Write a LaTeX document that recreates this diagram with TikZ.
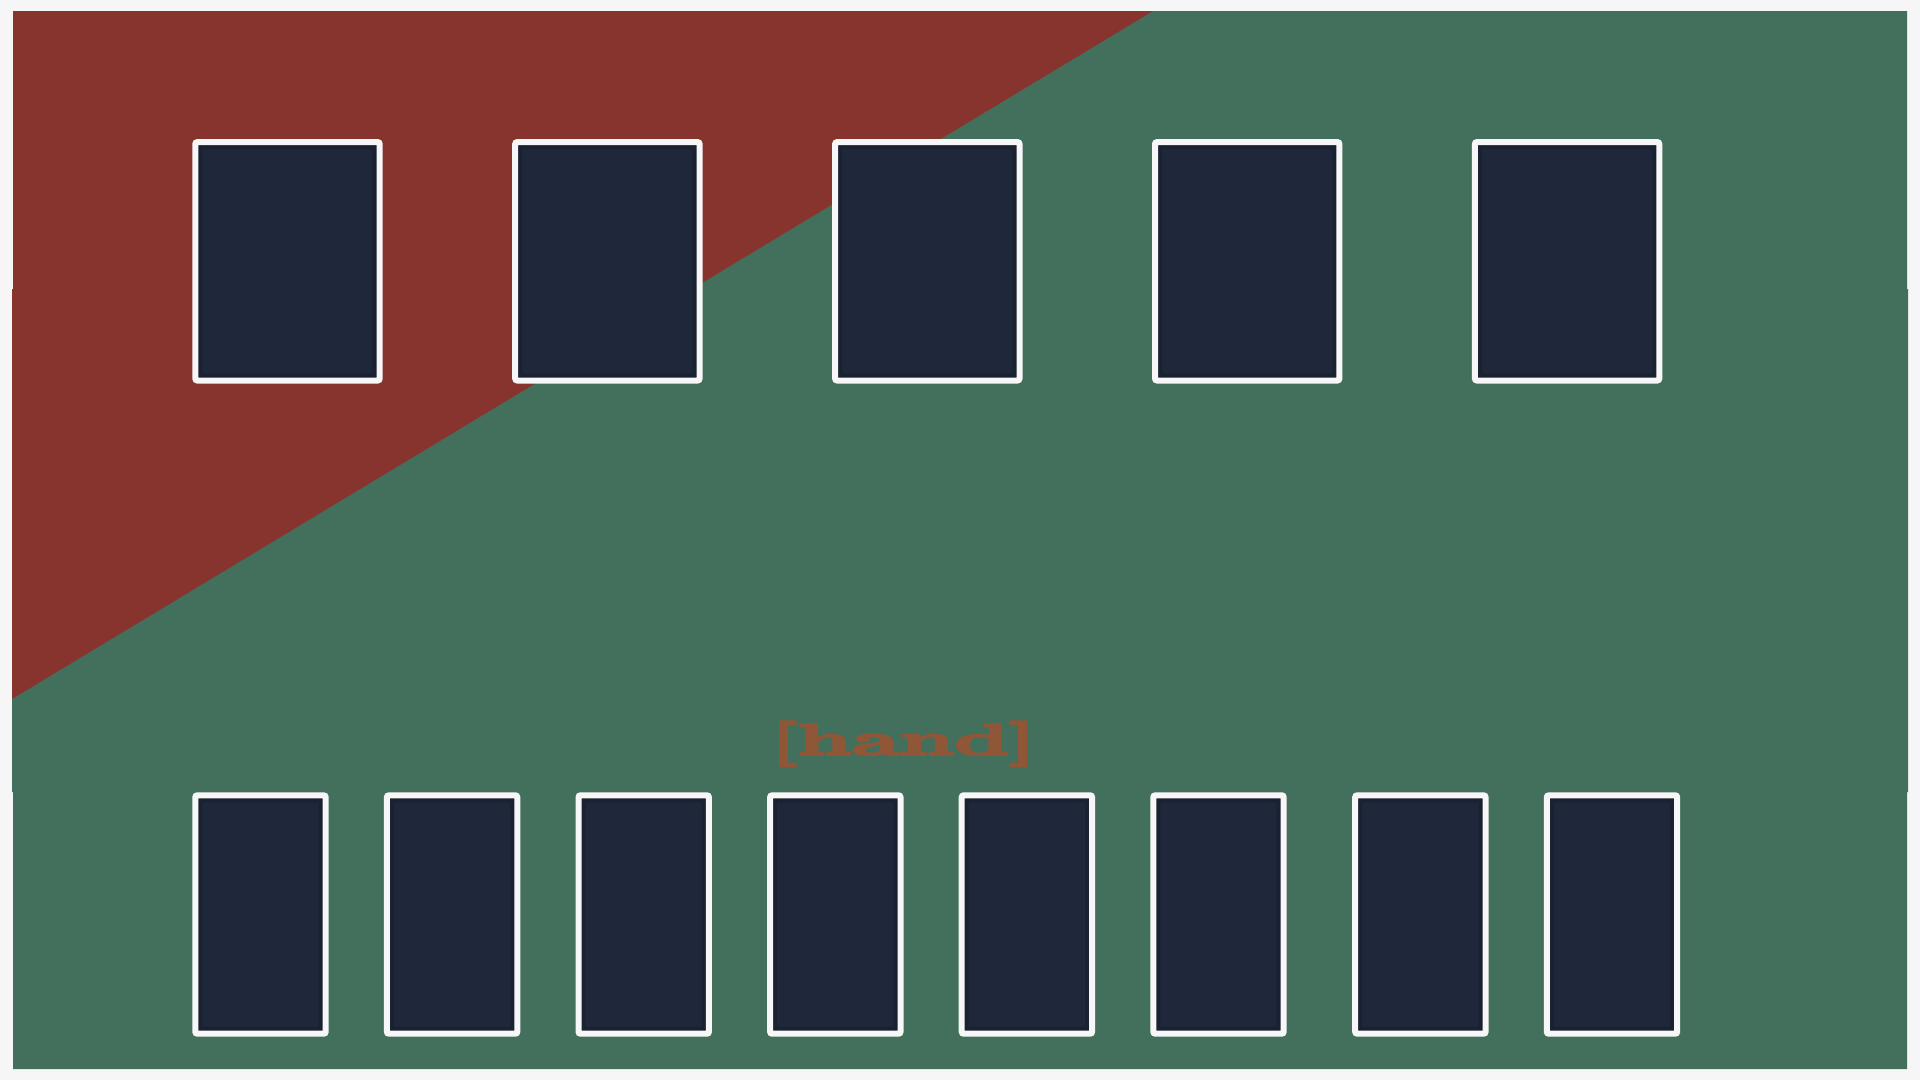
\documentclass[tikz,border=0pt]{standalone}
\usepackage{fontspec}
\usetikzlibrary{positioning}

\newfontfamily\handfont{lmroman10-bold.otf}[FakeBold=4]

\definecolor{pagebg}{HTML}{F6F6F6}
\definecolor{tablegreen}{HTML}{436F5D}
\definecolor{tablered}{HTML}{87342E}
\definecolor{cardfill}{HTML}{1F273B}
\definecolor{cardedge}{HTML}{1A2131}
\definecolor{cardline}{HTML}{F7F7F7}
\definecolor{handtext}{HTML}{8F5638}

\begin{document}
\begin{tikzpicture}[
x=1pt, y=-1pt,
node distance=129.5pt,
card/.style={rectangle, draw=cardline, line width=6pt, rounded corners=2pt, fill=cardedge, inner sep=0pt, outer sep=3pt, minimum height=238.4pt,
  path picture={\fill[cardfill] ([shift={(7pt,7pt)}]path picture bounding box.south west) rectangle ([shift={(-7pt,-7pt)}]path picture bounding box.north east);}},
fieldcard/.style={card, minimum width=184.4pt},
handcard/.style={card, minimum width=130.4pt},
zonelabel/.style={font=\fontsize{45}{50}\handfont, text=handtext, inner sep=0pt}
]

% table
\useasboundingbox (0,0) rectangle (1920,1080);
\fill[pagebg] (0,0) rectangle (1920,1080);
\fill[tablegreen] (13,11) rectangle (1907,290) (12,289) rectangle (1908,792) (13,791) rectangle (1907,1069);
\begin{scope}
\clip (13,11) rectangle (1907,290) (12,289) rectangle (1908,792) (13,791) rectangle (1907,1069);
\fill[tablered] (0,0) -- (1171.2,0) -- (0,706.2) -- cycle;
\end{scope}

% field row
\node[fieldcard] (field1) at (287.5,261.3) {};
\node[fieldcard, right=of field1] (field2) {};
\node[fieldcard, right=of field2] (field3) {};
\node[fieldcard, right=of field3] (field4) {};
\node[fieldcard, right=of field4] (field5) {};

% hand row
\node[zonelabel, anchor=base] (handlabel) at (903,755) {\scalebox{1.9}[1]{[hand]}};
\node[handcard] (hand1) at (260.5,914.5) {};
\node[handcard, right=55.2pt of hand1] (hand2) {};
\node[handcard, right=55.2pt of hand2] (hand3) {};
\node[handcard, right=55.2pt of hand3] (hand4) {};
\node[handcard, right=55.2pt of hand4] (hand5) {};
\node[handcard, right=55.2pt of hand5] (hand6) {};
\node[handcard, right=65.5pt of hand6] (hand7) {};
\node[handcard, right=55.2pt of hand7] (hand8) {};

\end{tikzpicture}
\end{document}
